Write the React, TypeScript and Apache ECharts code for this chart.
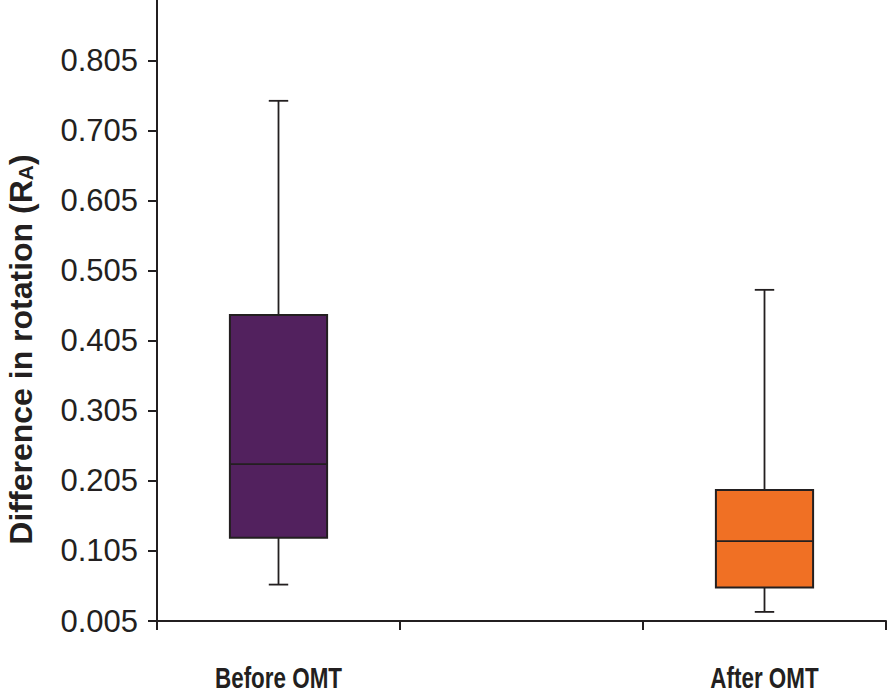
import React, { useEffect, useRef } from "react";
import * as echarts from "echarts";

const categories = ["Before OMT", "", "After OMT"];
// [category index, min, Q1, median, Q3, max]
const beforeBox = [0, 0.057, 0.124, 0.229, 0.442, 0.748];
const afterBox = [2, 0.018, 0.053, 0.119, 0.192, 0.478];
const boxColors = ["#52215E", "#F07024"];
const yTicks = [0.005, 0.105, 0.205, 0.305, 0.405, 0.505, 0.605, 0.705, 0.805];

const INK = "#231f20";
const FONT = "'Liberation Sans', Arial, Helvetica, sans-serif";

export default function App() {
  const ref = useRef<HTMLDivElement>(null);
  useEffect(() => {
    const chart = echarts.init(ref.current!, null, { renderer: "svg" });
    chart.setOption({
      animation: false,
      grid: { left: 157, right: 2, top: 0, bottom: 74, containLabel: false, outerBoundsMode: "none" },
      xAxis: {
        type: "category",
        data: categories,
        boundaryGap: true,
        axisLine: { lineStyle: { color: INK, width: 2 } },
        axisTick: { show: true, length: 9, alignWithLabel: false, interval: 0, lineStyle: { color: INK, width: 2 } },
        axisLabel: { show: false },
        splitLine: { show: false },
      },
      yAxis: {
        type: "value",
        min: 0.005,
        max: 0.892,
        name: "{a|Difference in rotation (R}{sub|A}{a|)}",
        nameLocation: "middle",
        nameRotate: 90,
        nameGap: 121,
        nameTextStyle: {
          padding: [0, 78, 0, 0],
          rich: {
            a: {
              fontSize: 32,
              fontWeight: "bold",
              fontFamily: FONT,
              color: INK,
              lineHeight: 30,
            },
            sub: {
              fontSize: 21,
              fontWeight: "bold",
              fontFamily: FONT,
              color: INK,
              lineHeight: 8,
              verticalAlign: "bottom",
            },
          },
        },
        axisLine: { show: true, lineStyle: { color: INK, width: 2 } },
        axisTick: { show: true, length: 9, customValues: yTicks, lineStyle: { color: INK, width: 2 } },
        axisLabel: {
          customValues: yTicks,
          margin: 19,
          fontSize: 31,
          fontFamily: FONT,
          color: INK,
          formatter: (v: number) => v.toFixed(3),
        },
        splitLine: { show: false },
      },
      series: [
        {
          type: "custom",
          data: [beforeBox, afterBox],
          encode: { x: 0, y: [1, 2, 3, 4, 5] },
          renderItem: (params: any, api: any) => {
            const x = api.value(0);
            const c = (v: number) => api.coord([x, v]);
            const band = api.size([1, 0])[0];
            const half = band * 0.2;
            const cap = band * 0.04;
            const pMin = c(api.value(1));
            const pQ1 = c(api.value(2));
            const pMed = c(api.value(3));
            const pQ3 = c(api.value(4));
            const pMax = c(api.value(5));
            const cx = pMin[0];
            const ls = { stroke: INK, lineWidth: 1.8 };
            const fill = boxColors[params.dataIndex];
            return {
              type: "group",
              children: [
                { type: "line", shape: { x1: cx, y1: pQ3[1], x2: cx, y2: pMax[1] }, style: ls },
                { type: "line", shape: { x1: cx - cap, y1: pMax[1], x2: cx + cap, y2: pMax[1] }, style: ls },
                { type: "line", shape: { x1: cx, y1: pQ1[1], x2: cx, y2: pMin[1] }, style: ls },
                { type: "line", shape: { x1: cx - cap, y1: pMin[1], x2: cx + cap, y2: pMin[1] }, style: ls },
                {
                  type: "rect",
                  shape: { x: cx - half, y: pQ3[1], width: half * 2, height: pQ1[1] - pQ3[1] },
                  style: { fill, stroke: INK, lineWidth: 2 },
                },
                { type: "line", shape: { x1: cx - half, y1: pMed[1], x2: cx + half, y2: pMed[1] }, style: ls },
              ],
            };
          },
        },
      ],
    });
    // condensed bold category labels, placed at the category centres from the axis scale
    const labelY = chart.convertToPixel({ yAxisIndex: 0 }, 0.005) as number;
    const labels = categories
      .map((name, i) => ({ name, i }))
      .filter((d) => d.name)
      .map((d) => {
        const px = chart.convertToPixel({ xAxisIndex: 0 }, d.i) as number;
        return {
          type: "text",
          x: px,
          y: labelY + 57,
          scaleX: 0.76,
          style: {
            text: d.name,
            fontSize: 29.5,
            fontWeight: "bold",
            fontFamily: FONT,
            fill: INK,
            align: "center",
            verticalAlign: "middle",
          },
        };
      });
    chart.setOption({ graphic: labels });
    return () => chart.dispose();
  }, []);
  return (
    <div
      ref={ref}
      style={{ position: "fixed", left: 0, top: 0, width: 888, height: 695, background: "#fff" }}
    />
  );
}
